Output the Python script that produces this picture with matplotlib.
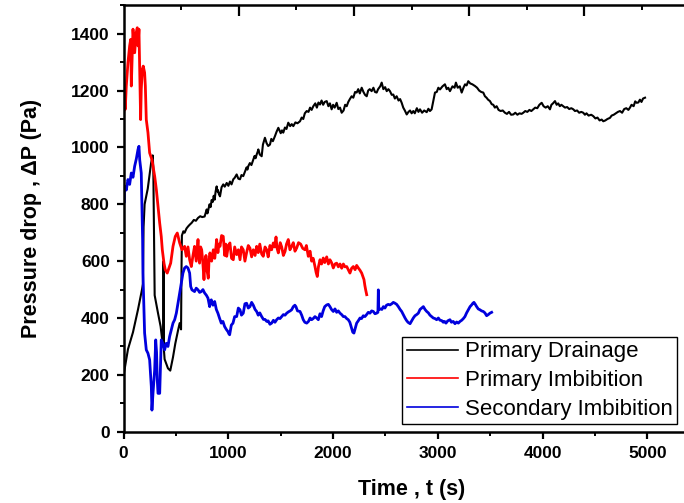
import matplotlib
matplotlib.use("Agg")
import matplotlib.pyplot as plt
from matplotlib.ticker import MultipleLocator

plt.rcParams['font.family'] = ['Liberation Sans', 'DejaVu Sans']

# Primary drainage (black)
drain_t = [0, 41, 89, 137, 175, 184, 190, 200, 230, 262, 277, 283, 290, 296, 328,
           353, 375, 378, 381, 384, 391, 423, 445, 471, 493, 519, 535, 540, 548,
           552, 556, 570, 582, 600, 615, 630, 650, 670, 690, 710, 731, 750, 773,
           783, 793, 800, 805, 820, 830, 840, 850, 860, 869, 878, 888, 895, 900,
           910, 920, 935, 951, 965, 984, 1000, 1015, 1030, 1047, 1060, 1079, 1095,
           1111, 1125, 1142, 1158, 1174, 1182, 1190, 1205, 1220, 1238, 1250, 1260,
           1270, 1280, 1286, 1300, 1318, 1330, 1349, 1365, 1380, 1397, 1410, 1425,
           1445, 1460, 1477, 1490, 1500, 1512, 1524, 1540, 1555, 1572, 1590, 1605,
           1620, 1640, 1660, 1684, 1700, 1715, 1730, 1748, 1765, 1780, 1795, 1811,
           1830, 1845, 1860, 1875, 1890, 1905, 1920, 1939, 1955, 1970, 1986, 2000,
           2015, 2034, 2050, 2066, 2082, 2100, 2115, 2130, 2145, 2160, 2177, 2193,
           2210, 2225, 2240, 2255, 2273, 2290, 2305, 2321, 2335, 2350, 2368, 2385,
           2400, 2416, 2430, 2450, 2464, 2480, 2497, 2512, 2528, 2543, 2560, 2575,
           2590, 2607, 2625, 2640, 2655, 2670, 2685, 2703, 2720, 2735, 2750, 2766,
           2780, 2800, 2815, 2830, 2850, 2870, 2894, 2910, 2925, 2941, 2955, 2973,
           2990, 3005, 3021, 3045, 3068, 3085, 3100, 3116, 3140, 3160, 3173, 3190,
           3210, 3228, 3245, 3260, 3275, 3291, 3310, 3330, 3355, 3375, 3395, 3415,
           3434, 3450, 3465, 3480, 3498, 3515, 3530, 3545, 3562, 3580, 3600, 3620,
           3641, 3660, 3680, 3700, 3721, 3740, 3760, 3780, 3800, 3816, 3835, 3855,
           3875, 3893, 3912, 3930, 3950, 3970, 3992, 4010, 4030, 4050, 4071, 4085,
           4100, 4119, 4135, 4150, 4165, 4180, 4198, 4215, 4235, 4255, 4275, 4294,
           4310, 4330, 4350, 4370, 4389, 4405, 4420, 4440, 4465, 4485, 4505, 4525,
           4545, 4565, 4580, 4600, 4620, 4644, 4660, 4680, 4700, 4720, 4740, 4760,
           4780, 4800, 4820, 4835, 4850, 4870, 4885, 4899, 4915, 4930, 4945, 4960,
           4979]
drain_p = [200, 290, 350, 430, 500, 520, 720, 800, 855, 945, 972, 930, 700, 480, 417,
           370, 300, 300, 600, 290, 255, 223, 215, 262, 310, 356, 382, 380, 360,
           560, 690, 705, 700, 715, 722, 728, 735, 745, 742, 752, 758, 755, 757,
           770, 782, 768, 775, 800, 790, 815, 808, 830, 816, 845, 863, 845, 850,
           835, 828, 860, 870, 862, 875, 865, 880, 870, 888, 893, 905, 890,
           888, 903, 899, 915, 930, 922, 934, 945, 938, 957, 970, 962,
           975, 985, 993, 975, 969, 1010, 1034, 1015, 1005, 1010, 1030, 1022,
           1040, 1055, 1069, 1058, 1050, 1060, 1052, 1070, 1065, 1087, 1075, 1082,
           1075, 1088, 1085, 1092, 1105, 1100, 1120, 1128, 1125, 1140, 1132, 1145,
           1155, 1140, 1158, 1151, 1165, 1150, 1160, 1163, 1145, 1155, 1134, 1150,
           1140, 1157, 1135, 1140, 1122, 1130, 1150, 1145, 1160, 1170, 1180, 1175,
           1195, 1193, 1205, 1190, 1210, 1195, 1185, 1180, 1200, 1205, 1198, 1210,
           1195, 1193, 1205, 1215, 1228, 1205, 1212, 1198, 1205, 1198, 1185, 1186,
           1172, 1180, 1165, 1170, 1157, 1140, 1130, 1116, 1125, 1130, 1120, 1128,
           1120, 1138, 1125, 1134, 1122, 1130, 1124, 1136, 1128, 1134, 1160, 1193,
           1195, 1210, 1204, 1215, 1222, 1205, 1210, 1198, 1215, 1210, 1228, 1210,
           1215, 1193, 1210, 1222, 1218, 1233, 1225, 1222, 1216, 1210, 1200, 1195,
           1193, 1180, 1175, 1168, 1163, 1152, 1150, 1140, 1145, 1132, 1128, 1130,
           1122, 1118, 1125, 1115, 1116, 1122, 1115, 1120, 1118, 1122, 1128, 1125,
           1132, 1128, 1134, 1140, 1138, 1150, 1157, 1145, 1140, 1145, 1134, 1150,
           1155, 1163, 1150, 1155, 1145, 1150, 1145, 1140, 1142, 1135, 1138, 1134,
           1128, 1130, 1122, 1125, 1122, 1115, 1120, 1112, 1115, 1110, 1102, 1105,
           1095, 1098, 1092, 1095, 1100, 1104, 1112, 1115, 1120, 1125, 1128, 1122,
           1135, 1138, 1132, 1140, 1150, 1145, 1162, 1157, 1158, 1168, 1160, 1172,
           1175]

# Primary imbibition (red)
imb_t = [0, 9, 15, 25, 41, 57, 67, 73, 89, 105, 120, 130, 137, 146, 153, 162, 168,
         178, 187, 200, 207, 216, 232, 248, 270, 280, 296, 312, 328, 344, 359, 369,
         385, 397, 416, 432, 449, 471, 493, 512, 535, 557, 582, 598, 614, 630, 646,
         662, 677, 693, 710, 718, 725, 735, 745, 755, 767, 776, 786, 795, 808, 816,
         824, 840, 856, 870, 888, 900, 910, 920, 935, 951, 965, 975, 984, 1000,
         1015, 1030, 1047, 1060, 1079, 1095, 1111, 1125, 1142, 1158, 1174, 1190,
         1206, 1222, 1238, 1255, 1270, 1285, 1300, 1318, 1333, 1350, 1366, 1380,
         1397, 1413, 1429, 1442, 1455, 1465, 1477, 1495, 1509, 1525, 1541, 1555,
         1572, 1588, 1604, 1620, 1636, 1652, 1670, 1690, 1710, 1731, 1745, 1763,
         1780, 1795, 1810, 1827, 1838, 1849, 1860, 1875, 1890, 1906, 1920, 1939,
         1955, 1970, 1985, 2002, 2018, 2034, 2050, 2066, 2082, 2098, 2113, 2130,
         2145, 2161, 2177, 2193, 2210, 2225, 2241, 2257, 2273, 2285, 2295, 2303,
         2311, 2321]
imb_p = [1120, 1169, 1134, 1216, 1298, 1357, 1380, 1216, 1416, 1333, 1404, 1421,
         1357, 1416, 1275, 1098, 1204, 1275, 1286, 1263, 1216, 1098, 1052, 981, 957,
         934, 899, 852, 793, 734, 687, 640, 593, 570, 558, 575, 593, 652, 687, 699,
         664, 640, 652, 617, 650, 605, 581, 620, 652, 600, 676, 620, 593, 650, 640,
         600, 535, 600, 620, 570, 540, 610, 629, 600, 640, 610, 676, 630, 660, 652,
         690, 687, 620, 660, 617, 655, 664, 610, 605, 650, 623, 640, 605, 650, 640,
         600, 630, 655, 646, 615, 640, 620, 652, 630, 660, 625, 617, 650, 640, 615,
         655, 640, 664, 650, 685, 645, 629, 665, 650, 620, 634, 660, 676, 640, 652,
         665, 635, 646, 665, 660, 645, 640, 655, 617, 635, 600, 610, 581, 560, 546,
         580, 605, 590, 611, 595, 615, 590, 605, 595, 576, 590, 593, 580, 590, 575,
         590, 580, 581, 570, 558, 575, 581, 570, 585, 576, 568, 558, 545, 535, 515,
         499, 482]

# Secondary imbibition (blue)
sec_t = [0, 3, 9, 25, 41, 57, 73, 89, 105, 121, 137, 146, 153, 168, 175, 181, 184,
         194, 200, 216, 232, 248, 264, 270, 280, 296, 306, 314, 321, 328, 344, 353,
         359, 375, 391, 407, 423, 439, 455, 471, 487, 503, 519, 535, 550, 566, 582,
         598, 614, 630, 640, 652, 677, 693, 710, 725, 741, 757, 773, 790, 805, 813,
         821, 829, 837, 853, 869, 885, 900, 915, 932, 948, 964, 980, 996, 1004,
         1012, 1028, 1044, 1060, 1079, 1095, 1111, 1125, 1142, 1158, 1174, 1190,
         1206, 1222, 1238, 1255, 1270, 1285, 1300, 1318, 1335, 1350, 1366, 1380,
         1397, 1413, 1430, 1445, 1461, 1477, 1493, 1509, 1525, 1541, 1557, 1575,
         1590, 1604, 1620, 1635, 1645, 1660, 1684, 1700, 1715, 1730, 1748, 1765,
         1780, 1795, 1810, 1827, 1843, 1859, 1875, 1890, 1905, 1920, 1939, 1955,
         1970, 1985, 2002, 2018, 2034, 2050, 2066, 2082, 2098, 2113, 2130, 2145,
         2160, 2177, 2188, 2199, 2212, 2225, 2240, 2257, 2272, 2288, 2304, 2320,
         2336, 2352, 2368, 2384, 2400, 2416, 2428, 2432, 2436, 2450, 2466, 2480,
         2495, 2510, 2527, 2543, 2560, 2575, 2591, 2607, 2623, 2640, 2655, 2670,
         2687, 2700, 2715, 2735, 2750, 2766, 2782, 2798, 2814, 2830, 2846, 2862,
         2878, 2894, 2910, 2925, 2941, 2957, 2973, 2989, 3005, 3021, 3037, 3052,
         3065, 3078, 3095, 3116, 3130, 3147, 3164, 3180, 3196, 3212, 3228, 3244,
         3259, 3275, 3291, 3308, 3323, 3335, 3345, 3358, 3371, 3386, 3402, 3418,
         3434, 3450, 3466, 3482, 3498, 3514]
sec_p = [840, 805, 863, 850, 887, 870, 910, 895, 934, 960, 993, 1004, 957, 910, 793,
         676, 558, 429, 347, 288, 276, 253, 159, 76, 135, 217, 323, 280, 182, 135,
         135, 253, 323, 310, 288, 311, 300, 335, 358, 382, 394, 417, 452, 488, 523,
         558, 576, 581, 576, 558, 511, 499, 493, 505, 499, 490, 493, 500, 488, 480,
         470, 455, 440, 460, 464, 445, 458, 430, 417, 400, 382, 388, 370, 360, 352,
         345, 341, 375, 382, 405, 405, 435, 429, 410, 417, 450, 452, 435, 440, 455,
         445, 430, 423, 410, 418, 405, 395, 395, 388, 390, 378, 382, 392, 385, 394,
         400, 398, 405, 412, 410, 417, 422, 425, 429, 440, 445, 440, 425, 423, 410,
         394, 385, 382, 388, 400, 394, 398, 405, 400, 394, 415, 405, 425, 440, 446,
         448, 440, 430, 423, 432, 420, 425, 417, 412, 405, 405, 398, 394, 385, 364,
         350, 347, 365, 382, 390, 400, 398, 408, 405, 412, 420, 417, 425, 423, 415,
         417, 420, 499, 429, 432, 430, 440, 435, 445, 448, 446, 450, 455, 452, 448,
         440, 430, 423, 412, 400, 392, 385, 380, 390, 400, 408, 412, 417, 430, 435,
         440, 430, 423, 418, 410, 405, 400, 398, 394, 400, 392, 391, 385, 388, 382,
         390, 394, 385, 388, 380, 386, 382, 388, 392, 398, 405, 418, 429, 440, 446,
         452, 455, 448, 440, 432, 429, 425, 423, 418, 408, 412, 417, 420]

fig = plt.figure(figsize=(6.84, 5.03), dpi=100)
ax = fig.add_axes([0.1808, 0.1417, 0.842, 0.8478])

ax.plot(drain_t, drain_p, color='black', lw=1.5, label='Primary Drainage')
ax.plot(imb_t, imb_p, color='#ff0000', lw=2.0, label='Primary Imbibition')
ax.plot(sec_t, sec_p, color='#0000dd', lw=2.0, label='Secondary Imbibition')

ax.set_xlim(0, 5500)
ax.set_ylim(0, 1500)
ax.xaxis.set_major_locator(MultipleLocator(1000))
ax.xaxis.set_minor_locator(MultipleLocator(500))
ax.yaxis.set_major_locator(MultipleLocator(200))
ax.yaxis.set_minor_locator(MultipleLocator(100))
ax.tick_params(which='major', direction='out', length=5, width=1.6,
               labelsize=12.5, pad=5)
ax.tick_params(which='minor', direction='out', length=2.8, width=1.4)
for lab in ax.get_xticklabels() + ax.get_yticklabels():
    lab.set_fontweight('bold')
for sp in ax.spines.values():
    sp.set_linewidth(1.8)

# inward ticks on the top edge, spaced differently from the bottom axis
top_major = [x for x in MultipleLocator(1100).tick_values(0, 5500) if 0 < x <= 5500]
top_minor = [x for x in MultipleLocator(550).tick_values(0, 5500)
             if 0 < x <= 5500 and x not in top_major]
xt = ax.get_xaxis_transform()
ax.vlines(top_major, 0.976, 1.0, transform=xt, colors='black', lw=1.6,
          clip_on=False)
ax.vlines(top_minor, 0.988, 1.0, transform=xt, colors='black', lw=1.4,
          clip_on=False)

ax.set_xlabel('Time , t (s)', fontsize=15.5, fontweight='bold', labelpad=13)
ax.set_ylabel('Pressure drop , \u0394P (Pa)', fontsize=15.5, fontweight='bold',
              labelpad=21)

leg = ax.legend(loc='lower left', bbox_to_anchor=(0.4838, 0.018),
                borderaxespad=0, fontsize=16, handlelength=2.3,
                handletextpad=0.3, labelspacing=0.34, borderpad=0.2,
                fancybox=False, framealpha=1, edgecolor='black')
leg.get_frame().set_linewidth(1.0)
for line in leg.get_lines():
    line.set_linewidth(1.2)

fig.savefig('out.png', dpi=100)
